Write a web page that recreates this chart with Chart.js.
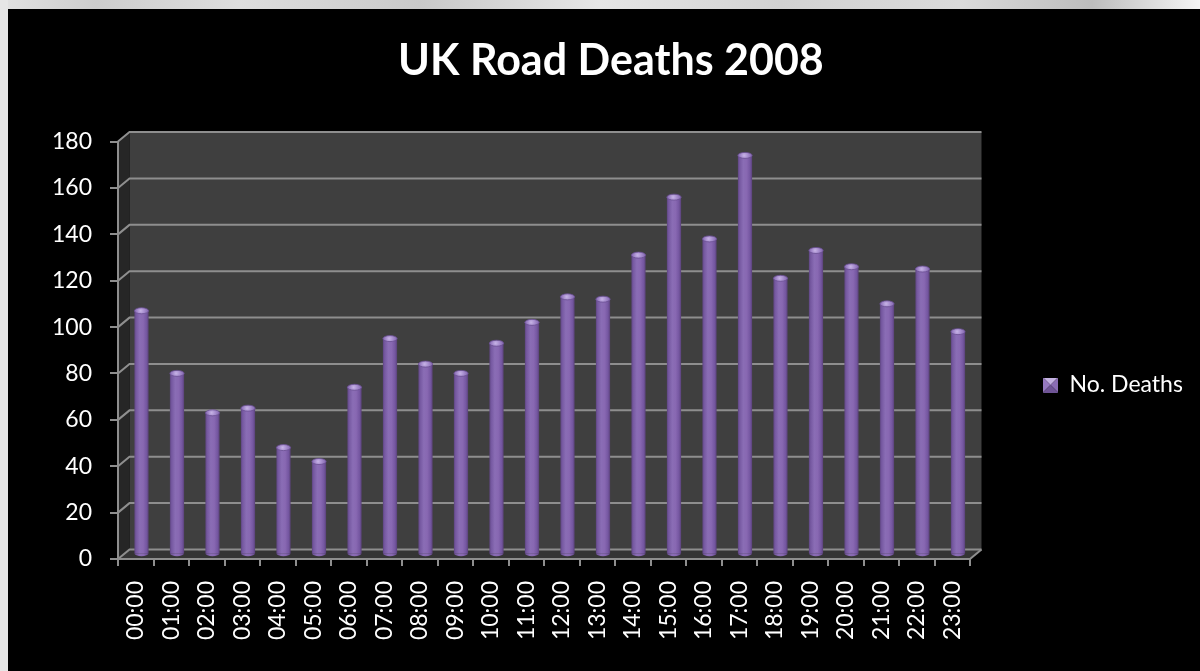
<!DOCTYPE html>
<html>
<head>
<meta charset="utf-8">
<style>
html,body{margin:0;padding:0;background:#000;overflow:hidden}
canvas{display:block}
</style>
<script src="https://cdn.jsdelivr.net/npm/chart.js@4.4.1/dist/chart.umd.min.js"></script>
</head>
<body>
<canvas id="c" width="1200" height="671"></canvas>
<script>
// ---- data ----
const categories = ['00:00','01:00','02:00','03:00','04:00','05:00','06:00','07:00','08:00','09:00','10:00','11:00',
                    '12:00','13:00','14:00','15:00','16:00','17:00','18:00','19:00','20:00','21:00','22:00','23:00'];
const deaths = [105,78,61,63,46,40,72,93,82,78,91,100,111,110,129,154,136,172,119,131,124,108,123,96];
const yMin = 0, yMax = 180, yStep = 20;
const seriesName = 'No. Deaths';
const titleText = 'UK Road Deaths 2008';

// ---- style ----
const W = 1200, H = 671;
const DX = 11.5, DY = -9.5;          // 3D depth offset
const FONT = 'Lato';
const TICK_SIZE = 23;
const BAR_PCT = 0.4;
const GRID = '#8e8e8e';

// legend marker (pyramid square)
const marker = document.createElement('canvas');
marker.width = 15; marker.height = 15;
(function(){
  const m = marker.getContext('2d');
  const s = 15, c = 7.5;
  const tri = (pts, col) => { m.beginPath(); m.moveTo(pts[0],pts[1]); m.lineTo(pts[2],pts[3]); m.lineTo(pts[4],pts[5]); m.closePath(); m.fillStyle = col; m.fill(); };
  tri([0,0,s,0,c,c], '#c4b2e2');
  tri([0,0,0,s,c,c], '#9679c0');
  tri([s,0,s,s,c,c], '#8a6cb4');
  tri([0,s,s,s,c,c], '#6f5496');
})();

// measure legend text to place legend
const mctx = document.createElement('canvas').getContext('2d');
mctx.font = TICK_SIZE + 'px ' + FONT;
const legendTextW = mctx.measureText(seriesName).width;
const LEG_PAD = 73;
const legendW = LEG_PAD + 15 + TICK_SIZE/2 + legendTextW + 10;
const PAD_RIGHT = Math.max(0, W - 970 - legendW);

function barFill(c) {
  const chart = c.chart;
  if (!chart.chartArea || c.dataIndex === undefined) return '#8064A2';
  const xs = chart.scales.x;
  const cx = xs.getPixelForValue(c.dataIndex);
  const hw = xs.width / categories.length * BAR_PCT / 2;
  const g = chart.ctx.createLinearGradient(cx - hw, 0, cx + hw, 0);
  g.addColorStop(0, '#5e4580');
  g.addColorStop(0.12, '#7558a0');
  g.addColorStop(0.38, '#8a6db5');
  g.addColorStop(0.62, '#8868b2');
  g.addColorStop(0.86, '#7456a0');
  g.addColorStop(1, '#5a4279');
  return g;
}

const wallsPlugin = {
  id: 'walls3d',
  beforeDraw(chart) {
    const ctx = chart.ctx;
    ctx.save();
    ctx.fillStyle = '#000';
    ctx.fillRect(0, 0, W, H);
    const tg = ctx.createLinearGradient(0, 0, W, 0);
    [[0,'#e2e2e2'],[0.08,'#cdcdcd'],[0.2,'#dedede'],[0.35,'#c9c9c9'],[0.5,'#e6e6e6'],
     [0.65,'#d2d2d2'],[0.8,'#dadada'],[0.91,'#bdbdbd'],[1,'#f5f5f5']].forEach(s => tg.addColorStop(s[0], s[1]));
    ctx.fillStyle = tg;
    ctx.fillRect(0, 0, W, 9);
    ctx.fillStyle = '#e6e6e6';
    ctx.fillRect(0, 0, 8, H);

    const {left: L, right: R, top: T, bottom: B} = chart.chartArea;
    // back wall
    ctx.fillStyle = '#3f3f3f';
    ctx.fillRect(L + DX, T + DY, R - L, B - T);
    // side wall
    ctx.fillStyle = '#262626';
    ctx.beginPath();
    ctx.moveTo(L, T); ctx.lineTo(L + DX, T + DY); ctx.lineTo(L + DX, B + DY); ctx.lineTo(L, B); ctx.closePath();
    ctx.fill();
    // floor
    ctx.fillStyle = '#343434';
    ctx.beginPath();
    ctx.moveTo(L, B); ctx.lineTo(R, B); ctx.lineTo(R + DX, B + DY); ctx.lineTo(L + DX, B + DY); ctx.closePath();
    ctx.fill();
    // gridlines
    const ys = chart.scales.y;
    ctx.strokeStyle = GRID;
    ctx.lineWidth = 2;
    ys.ticks.forEach(t => {
      const y = ys.getPixelForValue(t.value);
      ctx.beginPath();
      ctx.moveTo(L, y); ctx.lineTo(L + DX, y + DY); ctx.lineTo(R + DX, y + DY);
      ctx.stroke();
    });
    // floor right edge
    ctx.beginPath();
    ctx.moveTo(R, B); ctx.lineTo(R + DX, B + DY);
    ctx.stroke();
    ctx.restore();
  },
  beforeDatasetsDraw(chart) {
    chart.ctx.save();
    chart.ctx.translate(DX / 2, DY / 2);
  },
  afterDatasetsDraw(chart) {
    const ctx = chart.ctx;
    const meta = chart.getDatasetMeta(0);
    meta.data.forEach((bar, i) => {
      const p = bar.getProps(['x', 'y', 'width', 'base'], true);
      const rx = p.width / 2, ry = 3;
      // rounded base
      ctx.beginPath();
      ctx.ellipse(p.x, p.base, rx, ry, 0, 0, Math.PI);
      ctx.fillStyle = barFill({chart, dataIndex: i});
      ctx.fill();
      // top cap
      const cg = ctx.createRadialGradient(p.x - 1, p.y, 0, p.x, p.y, rx);
      cg.addColorStop(0, '#c7b4e6');
      cg.addColorStop(0.5, '#a58bcd');
      cg.addColorStop(1, '#8266ad');
      ctx.beginPath();
      ctx.ellipse(p.x, p.y, rx, ry, 0, 0, Math.PI * 2);
      ctx.fillStyle = cg;
      ctx.fill();
      ctx.lineWidth = 0.8;
      ctx.strokeStyle = '#6a4f92';
      ctx.stroke();
    });
    ctx.restore();
  }
};

new Chart(document.getElementById('c'), {
  type: 'bar',
  data: {
    labels: categories,
    datasets: [{
      label: seriesName,
      data: deaths,
      backgroundColor: barFill,
      borderWidth: 0,
      barPercentage: BAR_PCT,
      categoryPercentage: 1
    }]
  },
  options: {
    responsive: false,
    animation: false,
    devicePixelRatio: 1,
    events: [],
    layout: { padding: { top: 9, left: 29, right: PAD_RIGHT, bottom: 0 } },
    plugins: {
      title: {
        display: true, text: titleText, color: '#ffffff',
        font: { family: FONT, size: 43, weight: 'bold' },
        padding: { top: 26, bottom: 55 }
      },
      legend: {
        position: 'right', align: 'start', fullSize: true,
        title: { display: true, text: '', font: { size: 10 }, padding: { top: 279.5, bottom: 0 } },
        labels: {
          usePointStyle: true, pointStyle: marker, pointStyleWidth: 15, boxHeight: 15,
          padding: LEG_PAD, color: '#ffffff', font: { family: FONT, size: TICK_SIZE }
        }
      },
      tooltip: { enabled: false }
    },
    scales: {
      y: {
        min: yMin, max: yMax,
        ticks: { stepSize: yStep, color: '#ffffff', font: { family: FONT, size: TICK_SIZE }, padding: 18 },
        grid: { drawOnChartArea: false, drawTicks: true, tickLength: 8, color: GRID, lineWidth: 2 },
        border: { display: true, color: GRID, width: 2 },
        afterFit: s => { s.width = 89; }
      },
      x: {
        ticks: { color: '#ffffff', font: { family: FONT, size: TICK_SIZE }, autoSkip: false, maxRotation: 90, minRotation: 90, padding: 15 },
        grid: { drawOnChartArea: false, drawTicks: true, tickLength: 7, color: GRID, lineWidth: 2 },
        border: { display: true, color: GRID, width: 2 },
        afterFit: s => { s.height = 112; }
      }
    }
  },
  plugins: [wallsPlugin]
});
</script>
</body>
</html>
